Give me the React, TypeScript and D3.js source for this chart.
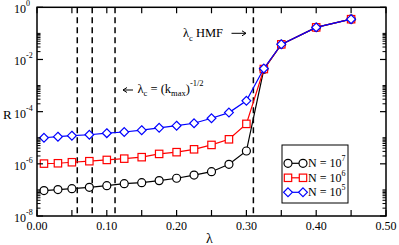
import React from "react";
import * as d3 from "d3";

// lambda values
const lam = [0.01, 0.03, 0.05, 0.075, 0.1, 0.125, 0.15, 0.175, 0.2, 0.225, 0.25, 0.275, 0.3, 0.325, 0.35, 0.4, 0.45];

const rN7 = [9.4e-8, 1.03e-7, 1.12e-7, 1.26e-7, 1.45e-7, 1.74e-7, 1.9e-7, 2.27e-7, 2.8e-7, 3.7e-7, 5.0e-7, 9.6e-7, 3.1e-6, 4.2e-3, 0.038, 0.17, 0.35];
const rN6 = [1.02e-6, 1.05e-6, 1.15e-6, 1.26e-6, 1.41e-6, 1.58e-6, 1.8e-6, 2.4e-6, 2.8e-6, 3.6e-6, 5.3e-6, 8.7e-6, 3.4e-5, 4.3e-3, 0.038, 0.17, 0.35];
const rN5 = [1.0e-5, 1.1e-5, 1.2e-5, 1.3e-5, 1.5e-5, 1.66e-5, 1.95e-5, 2.4e-5, 2.9e-5, 3.6e-5, 5.6e-5, 9.2e-5, 2.6e-4, 4.5e-3, 0.038, 0.17, 0.35];

const kmaxLines = [0.0577, 0.0791, 0.1118];
const hmfLine = 0.31;

const xTicks = [0, 0.1, 0.2, 0.3, 0.4, 0.5];
const xMinor = [0.05, 0.15, 0.25, 0.35, 0.45];
const yExps = [0, -2, -4, -6, -8];

const W = 399, H = 245;
const L = 37, R = 386, T = 7.3, B = 216;

const App = () => {
  const x = d3.scaleLinear().domain([0, 0.5]).range([L, R]);
  const y = d3.scaleLog().domain([1e-8, 1]).range([B, T]);
  const line = d3.line<[number, number]>().x((d) => x(d[0])).y((d) => y(d[1]));

  const series = [
    { vals: rN7, color: "#000000", shape: "circle", exp: "7" },
    { vals: rN6, color: "#ff0000", shape: "square", exp: "6" },
    { vals: rN5, color: "#0000ff", shape: "diamond", exp: "5" },
  ];

  const marker = (shape: string, cx: number, cy: number, color: string, key: any) => {
    if (shape === "circle")
      return <circle key={key} cx={cx} cy={cy} r={4} fill="white" stroke={color} strokeWidth={1.2} />;
    if (shape === "square")
      return <rect key={key} x={cx - 3.7} y={cy - 3.7} width={7.4} height={7.4} fill="white" stroke={color} strokeWidth={1.2} />;
    return (
      <path key={key} d={`M${cx},${cy - 4.4}L${cx + 4.4},${cy}L${cx},${cy + 4.4}L${cx - 4.4},${cy}Z`} fill="white" stroke={color} strokeWidth={1.2} />
    );
  };

  // minor log ticks: k * 10^(even exp)
  const yMinor: number[] = [];
  [-8, -6, -4, -2].forEach((e) => {
    for (let k = 2; k <= 10; k++) yMinor.push(k * Math.pow(10, e));
  });

  return (
    <svg width={W} height={H} style={{ position: "absolute", left: 0, top: 0, background: "white", fontFamily: "Liberation Serif, DejaVu Serif, serif" }}>
      {/* dashed lines */}
      {kmaxLines.concat([hmfLine]).map((v, i) => (
        <line key={i} x1={x(v)} x2={x(v)} y1={T} y2={B} stroke="black" strokeWidth={1.5} strokeDasharray="6,4" />
      ))}

      {/* series */}
      {series.map((s, si) => {
        const pts: [number, number][] = s.vals.map((v, i) => [lam[i], v]);
        return (
          <g key={si}>
            <path d={line(pts) || ""} fill="none" stroke={s.color} strokeWidth={1.2} />
            {pts.map((p, i) => marker(s.shape, x(p[0]), y(p[1]), s.color, i))}
          </g>
        );
      })}

      {/* frame */}
      <rect x={L} y={T} width={R - L} height={B - T} fill="none" stroke="black" strokeWidth={1.5} />

      {/* x ticks */}
      {xTicks.concat(xMinor).map((v, i) => (
        <g key={i}>
          <line x1={x(v)} x2={x(v)} y1={B} y2={B - 6} stroke="black" strokeWidth={1.2} />
          <line x1={x(v)} x2={x(v)} y1={T} y2={T + 6} stroke="black" strokeWidth={1.2} />
        </g>
      ))}
      {xTicks.map((v, i) => (
        <text key={i} x={x(v)} y={230} fontSize={12} textAnchor="middle">
          {d3.format(".2f")(v)}
        </text>
      ))}

      {/* y ticks */}
      {yExps.map((e, i) => (
        <g key={i}>
          <line x1={L} x2={L + 6} y1={y(Math.pow(10, e))} y2={y(Math.pow(10, e))} stroke="black" strokeWidth={1.2} />
          <line x1={R} x2={R - 6} y1={y(Math.pow(10, e))} y2={y(Math.pow(10, e))} stroke="black" strokeWidth={1.2} />
          <text x={26} y={y(Math.pow(10, e)) + 6} fontSize={12} textAnchor="end">10</text>
          <text x={26} y={y(Math.pow(10, e)) - 1} fontSize={8}>{e === 0 ? "0" : "-" + Math.abs(e)}</text>
        </g>
      ))}
      {yMinor.map((v, i) => (
        <g key={i}>
          <line x1={L} x2={L + 3.5} y1={y(v)} y2={y(v)} stroke="black" strokeWidth={1} />
          <line x1={R} x2={R - 3.5} y1={y(v)} y2={y(v)} stroke="black" strokeWidth={1} />
        </g>
      ))}

      {/* axis labels */}
      <text x={3} y={119} fontSize={13}>R</text>
      <text x={206} y={243} fontSize={14}>λ</text>

      {/* annotations */}
      <line x1={133} x2={123} y1={90} y2={90} stroke="black" strokeWidth={1} />
      <path d="M123,90 l4,-2.5 M123,90 l4,2.5" stroke="black" strokeWidth={1} fill="none" />
      <text x={137.5} y={92.7} fontSize={12.5}>
        λ<tspan fontSize={8.5} dy={3.5}>c</tspan>
        <tspan dy={-3.5}> = (k</tspan>
        <tspan fontSize={8.5} dy={3.5}>max</tspan>
        <tspan dy={-3.5}>)</tspan>
        <tspan fontSize={8.5} dy={-7}>-1/2</tspan>
      </text>
      <text x={183} y={37} fontSize={12.5}>
        λ<tspan fontSize={8.5} dy={3.5}>c</tspan>
        <tspan dy={-3.5}> HMF</tspan>
      </text>
      <line x1={231.5} x2={246} y1={33.3} y2={33.3} stroke="black" strokeWidth={1} />
      <path d="M246,33.3 l-4,-2.5 M246,33.3 l-4,2.5" stroke="black" strokeWidth={1} fill="none" />

      {/* legend */}
      <rect x={282} y={145} width={66} height={58} fill="white" stroke="black" strokeWidth={1} />
      {series.map((s, i) => {
        const ly = 163.3 + i * 14.5;
        return (
          <g key={i}>
            <line x1={287} x2={304} y1={ly} y2={ly} stroke={s.color} strokeWidth={1.2} />
            {marker(s.shape, 288, ly, s.color, "a")}
            {marker(s.shape, 303, ly, s.color, "b")}
            <text x={308} y={ly + 4} fontSize={12}>
              N = 10<tspan fontSize={8} dy={-6}>{s.exp}</tspan>
            </text>
          </g>
        );
      })}
    </svg>
  );
};

export default App;
